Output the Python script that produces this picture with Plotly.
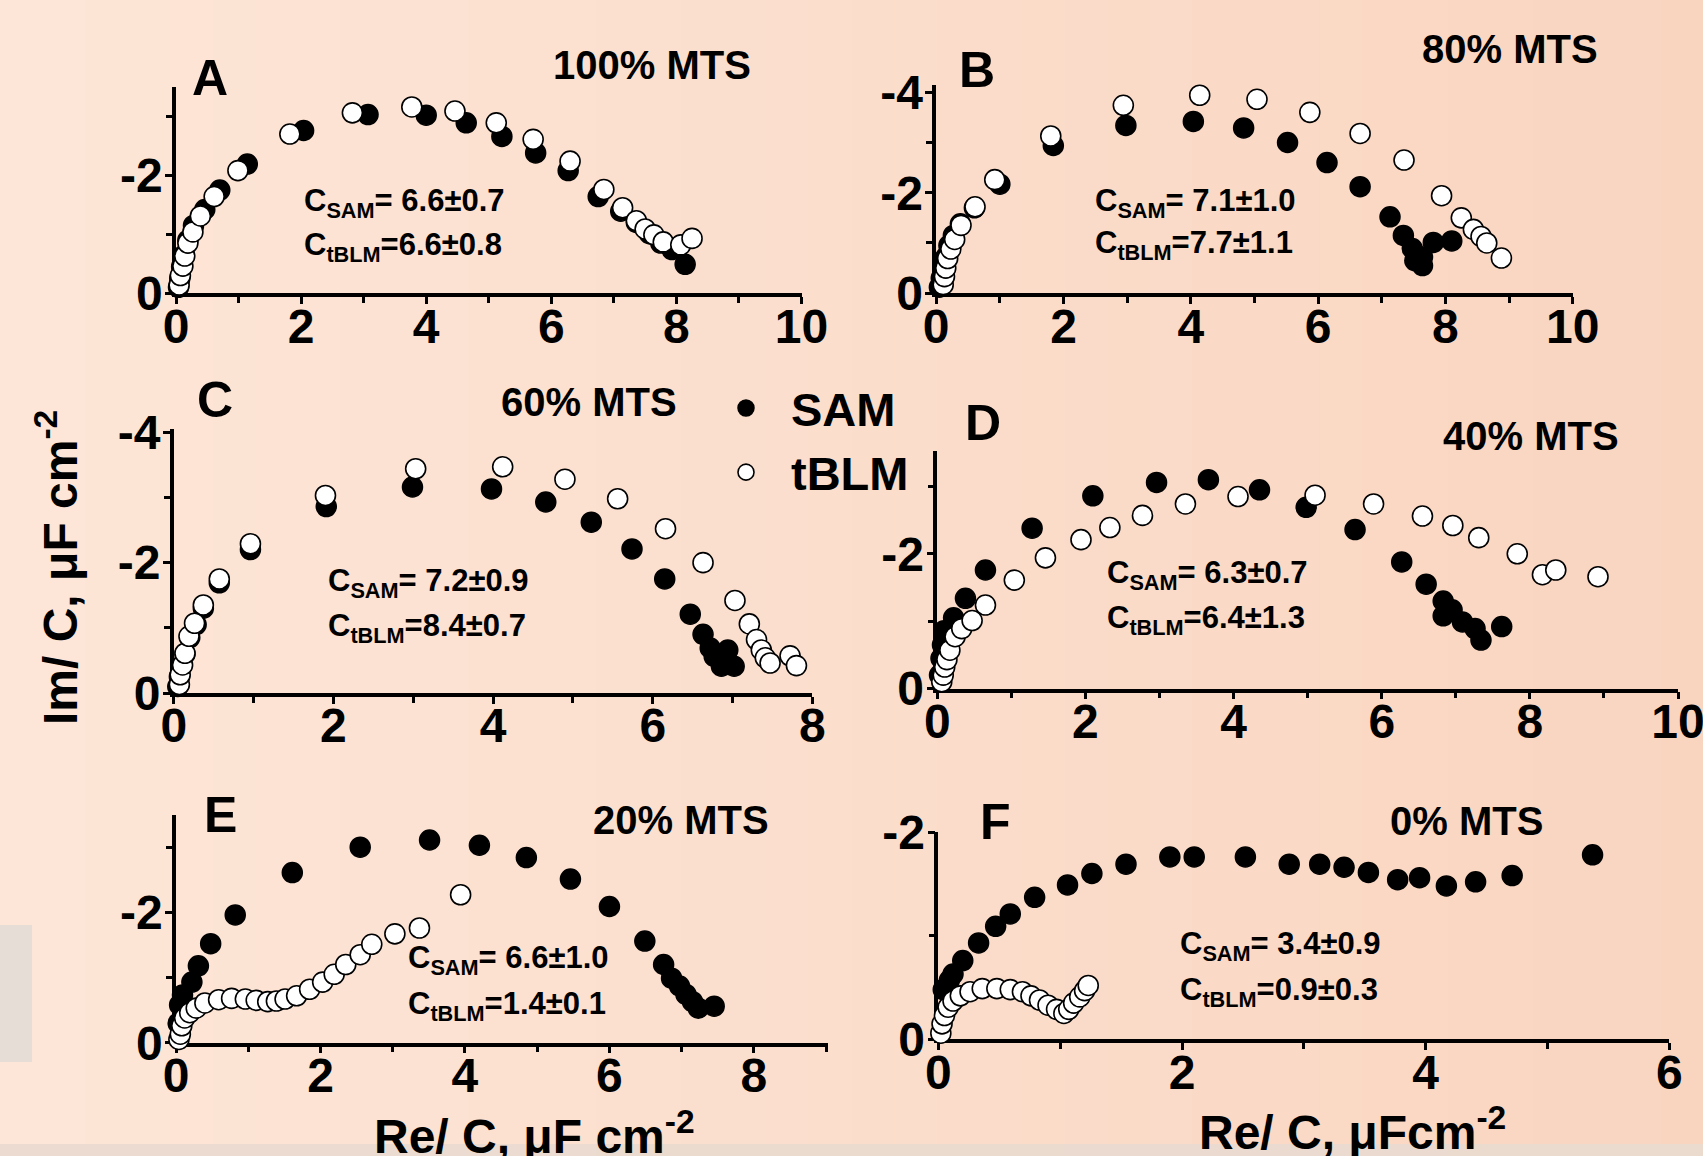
import plotly.graph_objects as go

W, H = 1703, 1156
FONT = "Arial, Liberation Sans, sans-serif"

# ---------------- data (Re/C, Im/C in uF cm^-2) ----------------
A_SAM_RE = [0.04, 0.06, 0.09, 0.13, 0.19, 0.28, 0.46, 0.70, 1.14, 2.04, 3.07, 4.00, 4.64, 5.21, 5.75, 6.27, 6.75, 7.11, 7.36, 7.57, 7.75, 7.93, 8.14]
A_SAM_IM = [-0.10, -0.25, -0.45, -0.65, -0.90, -1.15, -1.42, -1.75, -2.19, -2.76, -3.03, -3.02, -2.89, -2.66, -2.38, -2.08, -1.64, -1.39, -1.20, -1.01, -0.85, -0.74, -0.49]
A_TBLM_RE = [0.05, 0.07, 0.11, 0.14, 0.19, 0.27, 0.39, 0.61, 0.99, 1.82, 2.82, 3.77, 4.46, 5.12, 5.71, 6.30, 6.84, 7.14, 7.36, 7.50, 7.64, 7.79, 8.07, 8.25]
A_TBLM_IM = [-0.14, -0.30, -0.46, -0.63, -0.85, -1.04, -1.31, -1.64, -2.08, -2.70, -3.06, -3.16, -3.09, -2.89, -2.61, -2.24, -1.76, -1.45, -1.23, -1.09, -0.99, -0.87, -0.82, -0.93]

B_SAM_RE = [0.05, 0.08, 0.11, 0.15, 0.20, 0.27, 0.38, 0.60, 1.00, 1.84, 2.98, 4.04, 4.83, 5.52, 6.14, 6.66, 7.13, 7.34, 7.48, 7.52, 7.64, 7.64, 7.81, 8.10]
B_SAM_IM = [-0.12, -0.30, -0.50, -0.72, -0.95, -1.15, -1.38, -1.70, -2.17, -2.94, -3.34, -3.42, -3.29, -3.00, -2.60, -2.12, -1.52, -1.15, -0.89, -0.65, -0.55, -0.72, -1.01, -1.04]
B_TBLM_RE = [0.11, 0.13, 0.15, 0.18, 0.23, 0.29, 0.39, 0.61, 0.92, 1.80, 2.94, 4.14, 5.04, 5.87, 6.66, 7.35, 7.94, 8.25, 8.44, 8.56, 8.65, 8.88]
B_TBLM_IM = [-0.17, -0.33, -0.50, -0.69, -0.88, -1.07, -1.35, -1.72, -2.26, -3.13, -3.74, -3.94, -3.86, -3.60, -3.18, -2.65, -1.94, -1.50, -1.27, -1.13, -1.00, -0.70]

C_SAM_RE = [0.05, 0.07, 0.10, 0.14, 0.20, 0.28, 0.37, 0.57, 0.96, 1.91, 2.99, 3.98, 4.66, 5.23, 5.74, 6.15, 6.47, 6.63, 6.72, 6.77, 6.86, 6.90, 6.94, 7.02]
C_SAM_IM = [-0.10, -0.25, -0.42, -0.60, -0.85, -1.05, -1.30, -1.69, -2.20, -2.86, -3.16, -3.13, -2.93, -2.62, -2.21, -1.75, -1.21, -0.90, -0.69, -0.56, -0.41, -0.50, -0.66, -0.41]
C_TBLM_RE = [0.07, 0.08, 0.11, 0.14, 0.19, 0.26, 0.37, 0.57, 0.96, 1.90, 3.03, 4.12, 4.90, 5.56, 6.16, 6.63, 7.03, 7.21, 7.30, 7.36, 7.41, 7.47, 7.72, 7.80]
C_TBLM_IM = [-0.13, -0.28, -0.43, -0.61, -0.87, -1.07, -1.35, -1.75, -2.29, -3.03, -3.44, -3.47, -3.28, -2.98, -2.52, -2.00, -1.42, -1.06, -0.82, -0.66, -0.54, -0.46, -0.57, -0.42]

D_SAM_RE = [0.03, 0.05, 0.07, 0.09, 0.22, 0.38, 0.65, 1.28, 2.10, 2.96, 3.66, 4.35, 4.98, 5.64, 6.27, 6.60, 6.83, 6.95, 6.83, 7.09, 7.26, 7.34, 7.62]
D_SAM_IM = [-0.20, -0.45, -0.65, -0.86, -1.05, -1.34, -1.76, -2.38, -2.86, -3.06, -3.10, -2.95, -2.69, -2.36, -1.88, -1.55, -1.30, -1.17, -1.08, -0.99, -0.89, -0.72, -0.92]
D_TBLM_RE = [0.06, 0.08, 0.10, 0.13, 0.17, 0.24, 0.33, 0.47, 0.65, 1.04, 1.46, 1.94, 2.33, 2.77, 3.35, 4.06, 5.10, 5.89, 6.55, 6.96, 7.31, 7.83, 8.17, 8.35, 8.92]
D_TBLM_IM = [-0.10, -0.20, -0.32, -0.43, -0.57, -0.77, -0.89, -1.01, -1.24, -1.61, -1.94, -2.21, -2.39, -2.57, -2.74, -2.85, -2.87, -2.74, -2.56, -2.42, -2.24, -2.00, -1.69, -1.76, -1.66]

E_SAM_RE = [0.03, 0.05, 0.09, 0.22, 0.31, 0.48, 0.82, 1.61, 2.55, 3.51, 4.20, 4.85, 5.46, 6.00, 6.49, 6.75, 6.86, 6.97, 7.06, 7.15, 7.23, 7.45]
E_SAM_IM = [-0.30, -0.58, -0.73, -0.93, -1.18, -1.52, -1.96, -2.61, -3.00, -3.11, -3.03, -2.84, -2.51, -2.09, -1.56, -1.20, -0.99, -0.87, -0.74, -0.63, -0.53, -0.56]
E_TBLM_RE = [0.04, 0.06, 0.08, 0.12, 0.19, 0.28, 0.40, 0.59, 0.77, 0.96, 1.11, 1.27, 1.39, 1.51, 1.67, 1.85, 2.03, 2.19, 2.35, 2.55, 2.71, 3.03, 3.37, 3.94]
E_TBLM_IM = [-0.05, -0.13, -0.26, -0.38, -0.46, -0.53, -0.61, -0.66, -0.68, -0.67, -0.65, -0.63, -0.64, -0.67, -0.72, -0.82, -0.93, -1.05, -1.20, -1.35, -1.51, -1.67, -1.76, -2.27]

F_SAM_RE = [0.04, 0.09, 0.12, 0.20, 0.33, 0.47, 0.59, 0.79, 1.06, 1.26, 1.54, 1.90, 2.10, 2.52, 2.88, 3.13, 3.33, 3.53, 3.77, 3.95, 4.17, 4.41, 4.71, 5.37]
F_SAM_IM = [-0.48, -0.57, -0.63, -0.76, -0.93, -1.09, -1.21, -1.37, -1.49, -1.60, -1.69, -1.76, -1.76, -1.76, -1.69, -1.69, -1.66, -1.61, -1.54, -1.56, -1.48, -1.52, -1.58, -1.78]
F_TBLM_RE = [0.02, 0.03, 0.05, 0.08, 0.12, 0.18, 0.26, 0.36, 0.48, 0.59, 0.69, 0.76, 0.83, 0.90, 0.97, 1.03, 1.07, 1.11, 1.16, 1.20, 1.23]
F_TBLM_IM = [-0.06, -0.15, -0.23, -0.31, -0.37, -0.42, -0.46, -0.49, -0.49, -0.48, -0.46, -0.42, -0.38, -0.33, -0.29, -0.25, -0.29, -0.35, -0.41, -0.47, -0.52]

PANEL_LETTERS = ["A", "B", "C", "D", "E", "F"]
PANEL_TITLES = ["100% MTS", "80% MTS", "60% MTS", "40% MTS", "20% MTS", "0% MTS"]
C_SAM_TXT = ["6.6±0.7", "7.1±1.0", "7.2±0.9", "6.3±0.7", "6.6±1.0", "3.4±0.9"]
C_TBLM_TXT = ["6.6±0.8", "7.7±1.1", "8.4±0.7", "6.4±1.3", "1.4±0.1", "0.9±0.3"]
X_RANGES = [[0, 10], [0, 10], [0, 8], [0, 10], [0, 9.02], [0, 6]]
Y_RANGES = [[0, -3.5], [0, -4.15], [0, -4.05], [0, -3.53], [0, -3.5], [0, -2]]
Y_TICKS = [[0, -2], [0, -2, -4], [0, -2, -4], [0, -2], [0, -2], [0, -2]]
Y_TICKTEXT = [["0", "-2"], ["0", "-2", "-4"], ["0", "-2", "-4"], ["0", "-2"], ["0", "-2"], ["0", "-2"]]
Y_MINOR = [[-1, -3], [-1, -3], [-1, -3], [-1, -3], [-1, -3], [-1]]

panels = [
    (A_SAM_RE, A_SAM_IM, A_TBLM_RE, A_TBLM_IM),
    (B_SAM_RE, B_SAM_IM, B_TBLM_RE, B_TBLM_IM),
    (C_SAM_RE, C_SAM_IM, C_TBLM_RE, C_TBLM_IM),
    (D_SAM_RE, D_SAM_IM, D_TBLM_RE, D_TBLM_IM),
    (E_SAM_RE, E_SAM_IM, E_TBLM_RE, E_TBLM_IM),
    (F_SAM_RE, F_SAM_IM, F_TBLM_RE, F_TBLM_IM),
]

# ---------------- layout geometry (pixels) ----------------
def px(x):
    return x / W

def py(y):
    return 1 - y / H

# (left, right, bottom, top) in pixels
BOXES = [
    (176, 801.5, 293.2, 86.9),
    (936.2, 1572.7, 293.2, 84.7),
    (173.8, 812.4, 693.0, 429.0),
    (937.3, 1678.0, 688.6, 450.7),
    (176, 827.6, 1042.7, 814.6),
    (938.4, 1669.3, 1039.4, 832.0),
]
LETTER_POS = [(209.6, 77.7), (977.5, 70), (215, 399.7), (983, 422.5), (220.5, 815), (995, 821.6)]
TITLE_POS = [(651.7, 64.6), (1509.7, 49.4), (588.7, 402.4), (1531.4, 435.5), (681, 819.5), (1466.8, 820.5)]
CTXT_POS = [(302, 203, 246.5), (1092.6, 203, 245.5), (325.8, 583.2, 627.8),
            (1104.6, 574.5, 620.2), (406.2, 960.1, 1005.7), (1178.4, 946, 991.6)]

fig = go.Figure()

tickfont = dict(family=FONT, size=48, color="black", weight="bold")
layout = {}
for i, (sr, si, tr, ti) in enumerate(panels):
    n = "" if i == 0 else str(i + 1)
    xa, ya = "x" + n, "y" + n
    fig.add_trace(go.Scatter(
        x=sr, y=si, xaxis=xa, yaxis=ya, mode="markers", name="SAM",
        legendgroup="SAM", showlegend=(i == 0), cliponaxis=False,
        marker=dict(size=20, color="black", line=dict(color="black", width=1.5))))
    fig.add_trace(go.Scatter(
        x=tr, y=ti, xaxis=xa, yaxis=ya, mode="markers", name="tBLM",
        legendgroup="tBLM", showlegend=(i == 0), cliponaxis=False,
        marker=dict(size=20, color="white", line=dict(color="black", width=1.6))))
    l, r, b, t = BOXES[i]
    common = dict(showline=True, linecolor="black", linewidth=3.5, ticks="outside",
                  ticklen=7, tickwidth=3, tickcolor="black", showgrid=False, zeroline=False,
                  tickfont=tickfont, layer="below traces", automargin=False,
                  ticklabeloverflow="allow")
    layout["xaxis" + n] = dict(common, domain=[px(l), px(r)], range=X_RANGES[i],
                               anchor=ya, tickmode="linear", tick0=0, dtick=2, ticklabelstandoff=-19,
                               minor=dict(ticks="outside", ticklen=6, tickwidth=3, tickcolor="black", dtick=1, tick0=0))
    layout["yaxis" + n] = dict(common, domain=[py(b), py(t)], range=Y_RANGES[i],
                               anchor=xa, tickmode="array", tickvals=Y_TICKS[i], ticktext=Y_TICKTEXT[i],
                               ticklabelstandoff=-7,
                               minor=dict(ticks="outside", ticklen=6, tickwidth=3, tickcolor="black",
                                          tickmode="array", tickvals=Y_MINOR[i]))

annotations = []
bold = lambda s: dict(family=FONT, size=s, color="black", weight="bold")
for i in range(6):
    x, y = LETTER_POS[i]
    annotations.append(dict(text=PANEL_LETTERS[i], x=px(x), y=py(y), xref="paper", yref="paper",
                            showarrow=False, font=bold(50), xanchor="center", yanchor="middle"))
    x, y = TITLE_POS[i]
    annotations.append(dict(text=PANEL_TITLES[i], x=px(x), y=py(y), xref="paper", yref="paper",
                            showarrow=False, font=bold(40), xanchor="center", yanchor="middle"))
    x, y1, y2 = CTXT_POS[i]
    annotations.append(dict(text="C<sub>SAM</sub>= " + C_SAM_TXT[i], x=px(x), y=py(y1), xref="paper", yref="paper",
                            showarrow=False, font=bold(31), xanchor="left", yanchor="middle"))
    annotations.append(dict(text="C<sub>tBLM</sub>=" + C_TBLM_TXT[i], x=px(x), y=py(y2), xref="paper", yref="paper",
                            showarrow=False, font=bold(31), xanchor="left", yanchor="middle"))

annotations.append(dict(text="Im/ C, μF cm<sup>-2</sup>", x=px(57), y=py(568), xref="paper", yref="paper",
                        showarrow=False, textangle=-90, font=bold(48), xanchor="center", yanchor="middle"))
annotations.append(dict(text="Re/ C, μF cm<sup>-2</sup>", x=px(534), y=py(1133), xref="paper", yref="paper",
                        showarrow=False, font=bold(48), xanchor="center", yanchor="middle"))
annotations.append(dict(text="Re/ C, μFcm<sup>-2</sup>", x=px(1352), y=py(1129), xref="paper", yref="paper",
                        showarrow=False, font=bold(48), xanchor="center", yanchor="middle"))

# background gradient strips
shapes = []
c0 = (253, 230, 216)
c1 = (249, 213, 192)
N = 40
for k in range(N):
    f = (k + 0.5) / N
    col = tuple(round(c0[j] + (c1[j] - c0[j]) * f) for j in range(3))
    shapes.append(dict(type="rect", xref="paper", yref="paper", x0=k / N, x1=(k + 1) / N + 0.002,
                       y0=0, y1=1, fillcolor="rgb(%d,%d,%d)" % col, line=dict(width=0), layer="below"))
# grey patch at left and band at bottom
shapes.append(dict(type="rect", xref="paper", yref="paper", x0=0, x1=px(32), y0=py(1062), y1=py(925),
                   fillcolor="rgb(230,221,214)", line=dict(width=0), layer="below"))
shapes.append(dict(type="rect", xref="paper", yref="paper", x0=0, x1=1, y0=0, y1=py(1144),
                   fillcolor="rgba(233,218,207,0.92)", line=dict(width=0), layer="above"))

fig.update_layout(
    width=W, height=H, margin=dict(l=0, r=0, t=0, b=0, autoexpand=False),
    paper_bgcolor="rgb(251,222,205)", plot_bgcolor="rgba(0,0,0,0)",
    annotations=annotations, shapes=shapes,
    showlegend=True,
    legend=dict(x=px(701), y=py(371), xanchor="left", yanchor="top", bgcolor="rgba(0,0,0,0)",
                font=dict(family=FONT, size=47, color="black", weight="bold"),
                itemwidth=80, tracegroupgap=0, itemsizing="trace"),
    modebar=dict(bgcolor="rgba(0,0,0,0)", color="rgba(0,0,0,0)", activecolor="rgba(0,0,0,0)"),
    **layout,
)

fig.write_html("out.html",
               config={"displayModeBar": False, "displaylogo": False},
               post_script="document.body.style.margin='0';document.body.style.overflow='hidden';")
